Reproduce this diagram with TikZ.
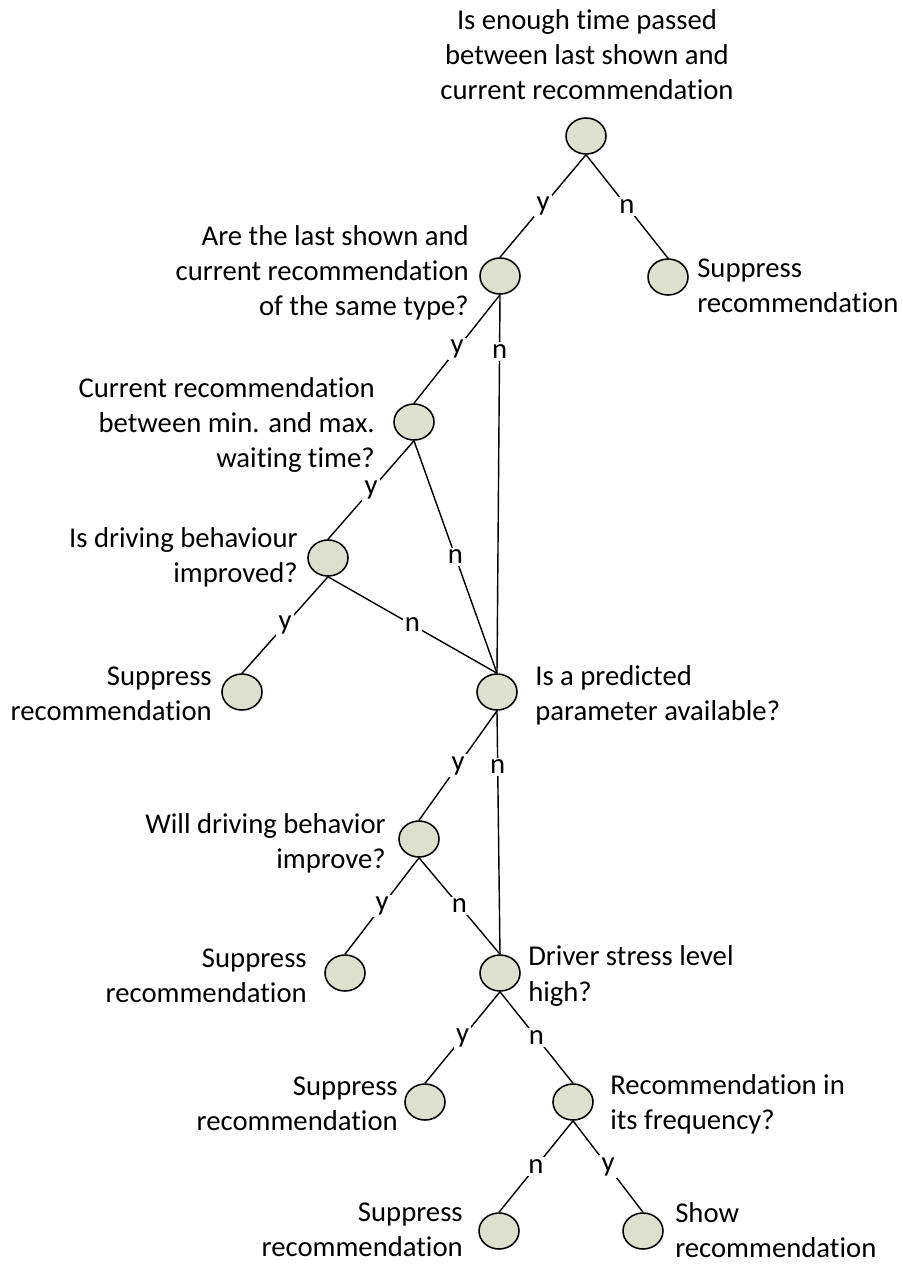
\documentclass[tikz,border=0pt]{standalone}
\usepackage{fontspec}
\setmainfont{Carlito}[Ligatures=NoCommon]
\usepackage{tikz}
\usetikzlibrary{shapes.geometric}
\definecolor{kaki}{RGB}{221,224,204}

\begin{document}
\begin{tikzpicture}[x=0.025cm, y=-0.025cm,
  nd/.style={ellipse, draw=black, fill=kaki, line width=1.1pt,
             minimum width=1cm, minimum height=0.9cm, inner sep=0pt},
  tx/.style={inner sep=0pt, font=\fontsize{20.4}{24.9}\selectfont},
  lb/.style={fill=white, inner sep=1.5pt, font=\fontsize{20.4}{24.9}\selectfont},
  ln/.style={line width=1pt}]

\useasboundingbox (0,0) rectangle (902,1264);

% les noeuds de l'arbre
\node[nd] (q1) at (586,136) {};
\node[nd] (q2) at (500,276) {};
\node[nd] (q3) at (668,277) {};
\node[nd] (q4) at (414,422) {};
\node[nd] (q5) at (328,558) {};
\node[nd] (q6) at (242,692) {};
\node[nd] (q7) at (497,692) {};
\node[nd] (q8) at (419,839) {};
\node[nd] (q9) at (345,973) {};
\node[nd] (q10) at (500,973) {};
\node[nd] (q11) at (425,1102) {};
\node[nd] (q12) at (573,1102) {};
\node[nd] (q13) at (499,1231) {};
\node[nd] (q14) at (643,1231) {};

% les questions et decisions
\node[tx, align=center] (t1) at (587,55) {Is enough time passed\\between last shown and\\current recommendation};
\node[tx, align=right, anchor=east] (t2) at (469,273) {Are the last shown and\\current recommendation\\of the same type?};
\node[tx, align=left, anchor=west] (t3) at (697,286) {Suppress\\recommendation};
\node[tx, align=right, anchor=east] (t4) at (375,425) {Current recommendation\\between min. and max.\\waiting time?};
\node[tx, align=right, anchor=east] (t5) at (298,557) {Is driving behaviour\\improved?};
\node[tx, align=right, anchor=east] (t6) at (212,694) {Suppress\\recommendation};
\node[tx, align=left, anchor=west] (t7) at (535,695) {Is a predicted\\parameter available?};
\node[tx, align=right, anchor=east] (t8) at (386,843) {Will driving behavior\\improve?};
\node[tx, align=right, anchor=east] (t9) at (307,976) {Suppress\\recommendation};
\node[tx, align=left, anchor=west] (t10) at (528,976) {Driver stress level\\high?};
\node[tx, align=right, anchor=east] (t11) at (398,1104) {Suppress\\recommendation};
\node[tx, align=left, anchor=west] (t12) at (610,1104) {Recommendation in\\its frequency?};
\node[tx, align=right, anchor=east] (t13) at (463,1230) {Suppress\\recommendation};
\node[tx, align=left, anchor=west] (t14) at (675,1230) {Show\\recommendation};

% les branches
\draw[ln] (q1.south) -- node[lb] {y} (q2.north);
\draw[ln] (q1.south) -- node[lb] {n} (q3.north);
\draw[ln] (q2.south) -- node[lb] {y} (q4.north);
\draw[ln] (q2.south) -- node[lb, pos=0.15] {n} (q7.north);
\draw[ln] (q4.south) -- node[lb] {y} (q5.north);
\draw[ln] (q4.south) -- node[lb] {n} (q7.north);
\draw[ln] (q5.south) -- node[lb] {y} (q6.north);
\draw[ln] (q5.south) -- node[lb] {n} (q7.north);
\draw[ln] (q7.south) -- node[lb] {y} (q8.north);
\draw[ln] (q7.south) -- node[lb, pos=0.23] {n} (q10.north);
\draw[ln] (q8.south) -- node[lb] {y} (q9.north);
\draw[ln] (q8.south) -- node[lb] {n} (q10.north);
\draw[ln] (q10.south) -- node[lb] {y} (q11.north);
\draw[ln] (q10.south) -- node[lb] {n} (q12.north);
\draw[ln] (q12.south) -- node[lb] {n} (q13.north);
\draw[ln] (q12.south) -- node[lb] {y} (q14.north);

\end{tikzpicture}
\end{document}
